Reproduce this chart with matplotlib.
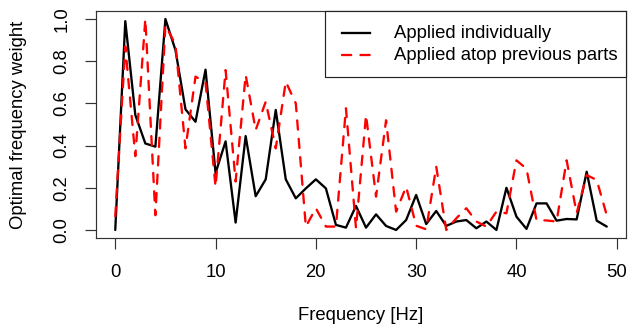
import matplotlib
matplotlib.use("Agg")
import matplotlib.pyplot as plt
from matplotlib.lines import Line2D
from matplotlib.patches import Rectangle

# ---- data ----
freq_hz = list(range(50))
applied_individually = [0.0, 0.99, 0.545, 0.41, 0.395, 1.0, 0.853, 0.572, 0.513, 0.76,
                        0.27, 0.42, 0.035, 0.445, 0.16, 0.24, 0.569, 0.24, 0.15, 0.197,
                        0.24, 0.197, 0.024, 0.011, 0.114, 0.011, 0.074, 0.019, 0.0, 0.047,
                        0.166, 0.028, 0.09, 0.019, 0.04, 0.047, 0.008, 0.04, 0.0, 0.2,
                        0.063, 0.005, 0.126, 0.126, 0.044, 0.052, 0.05, 0.276, 0.044, 0.016]
applied_atop = [0.065, 0.87, 0.35, 1.0, 0.07, 0.97, 0.88, 0.387, 0.727, 0.70,
                0.205, 0.758, 0.23, 0.735, 0.474, 0.608, 0.387, 0.703, 0.6, 0.016,
                0.103, 0.016, 0.016, 0.577, 0.008, 0.545, 0.158, 0.52, 0.087, 0.205,
                0.02, 0.003, 0.3, 0.0, 0.055, 0.103, 0.04, 0.016, 0.087, 0.079,
                0.33, 0.29, 0.047, 0.045, 0.04, 0.33, 0.08, 0.26, 0.237, 0.07]
x_ticks = [0, 10, 20, 30, 40, 50]
y_ticks = [0.0, 0.2, 0.4, 0.6, 0.8, 1.0]
y_tick_labels = ["0.0", "0.2", "0.4", "0.6", "0.8", "1.0"]
series_labels = ["Applied individually", "Applied atop previous parts"]
x_label = "Frequency [Hz]"
y_label = "Optimal frequency weight"

plt.rcParams['font.family'] = ['Liberation Sans', 'DejaVu Sans']
FS = 13.3
W, H = 628, 331
fig = plt.figure(figsize=(W / 100, H / 100), dpi=100)

# plot region in pixels (R style, 4% extension)
L, R_, T, B = 95.6, 626.4, 10.6, 238.4
ax = fig.add_axes([L / W, 1 - B / H, (R_ - L) / W, (B - T) / H])

lw = 1.66
ax.plot(freq_hz, applied_individually, color='black', lw=lw,
        solid_joinstyle='round', solid_capstyle='round')
ax.plot(freq_hz, applied_atop, color='#FF0000', lw=lw, dashes=(4, 4),
        dash_capstyle='round', dash_joinstyle='round')

xmin, xmax = min(freq_hz), max(freq_hz)
ax.set_xlim(xmin - 0.04 * (xmax - xmin), xmax + 0.04 * (xmax - xmin))
ax.set_ylim(-0.04, 1.04)

ax.set_xticks(x_ticks)
ax.set_yticks(y_ticks)
ax.set_yticklabels(y_tick_labels, rotation=90, va='center')
for sp in ax.spines.values():
    sp.set_linewidth(0.85)
    sp.set_color('#333333')
ax.tick_params(axis='both', direction='out', length=8, width=0.85,
               color='#333333', labelsize=FS)
ax.tick_params(axis='x', pad=10.5)
ax.tick_params(axis='y', pad=10)

fig.text(((L + R_) / 2) / W, 1 - 316 / H, x_label, ha='center', va='center', fontsize=FS)
fig.text(18.5 / W, 1 - ((T + B) / 2) / H, y_label, ha='center', va='center',
         rotation=90, fontsize=FS)

# legend (R-style box at top-right)
def fx(px):
    return px / W

def fy(py):
    return 1 - py / H

box_l, box_t, box_b = 325, T, 77.3
fig.patches.append(Rectangle((fx(box_l), fy(box_b)), fx(R_) - fx(box_l), fy(box_t) - fy(box_b),
                             transform=fig.transFigure, facecolor='white',
                             edgecolor='#222222', lw=0.85, zorder=5))
rows_y = [33.3, 55.3]
styles = [dict(color='black'), dict(color='#FF0000', dashes=(4, 4), dash_capstyle='round')]
for yy, lab, st in zip(rows_y, series_labels, styles):
    fig.lines.append(Line2D([fx(341.7), fx(370)], [fy(yy), fy(yy)], transform=fig.transFigure,
                            lw=lw, zorder=6, **st))
    fig.text(fx(394), fy(yy), lab, ha='left', va='center', fontsize=FS, zorder=7)

fig.savefig("out.png", dpi=100)
